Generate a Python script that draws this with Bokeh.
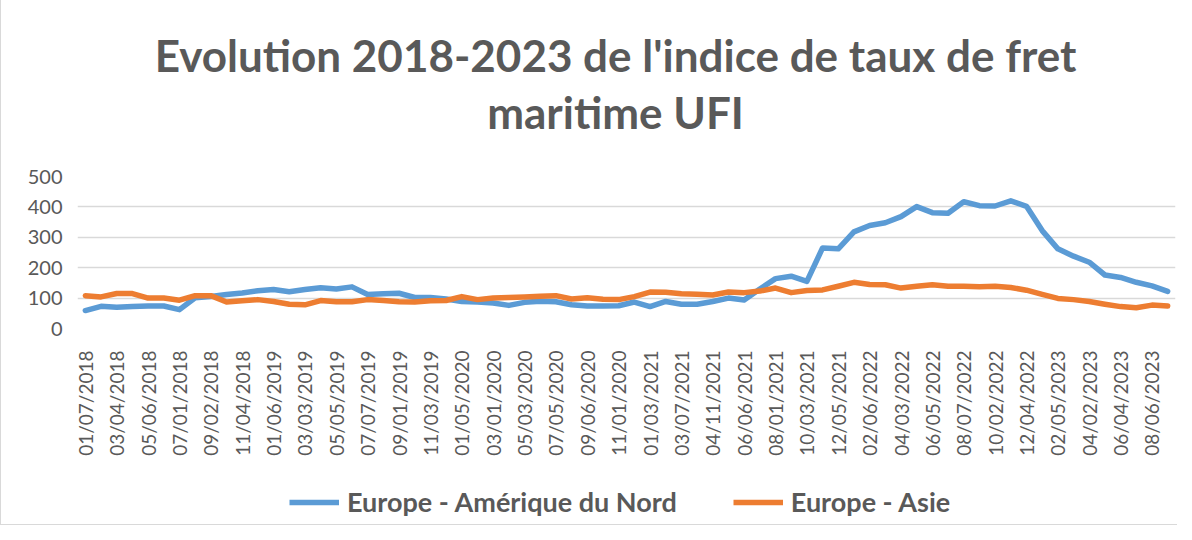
from math import pi
from bokeh.plotting import figure
from bokeh.layouts import column
from bokeh.models import (FixedTicker, Label, Legend, LegendItem, ColumnDataSource, Range1d)
from bokeh.embed import file_html
from bokeh.resources import INLINE

title_line1 = "Evolution 2018-2023 de l'indice de taux de fret"
title_line2 = "maritime UFI"

tick_labels = ["01/07/2018", "03/04/2018", "05/06/2018", "07/01/2018", "09/02/2018",
               "11/04/2018", "01/06/2019", "03/03/2019", "05/05/2019", "07/07/2019",
               "09/01/2019", "11/03/2019", "01/05/2020", "03/01/2020", "05/03/2020",
               "07/05/2020", "09/06/2020", "11/01/2020", "01/03/2021", "03/07/2021",
               "04/11/2021", "06/06/2021", "08/01/2021", "10/03/2021", "12/05/2021",
               "02/06/2022", "04/03/2022", "06/05/2022", "08/07/2022", "10/02/2022",
               "12/04/2022", "02/05/2023", "04/02/2023", "06/04/2023", "08/06/2023"]

europe_amerique = [59, 73, 70, 72, 74, 74, 62, 101, 105, 112, 117, 124, 128, 121, 128, 134,
                   130, 137, 112, 114, 116, 102, 102, 97, 89, 87, 84, 76, 86, 90, 88, 78,
                   74, 74, 75, 87, 72, 89, 80, 80, 89, 100, 94, 130, 164, 172, 155, 265,
                   262, 318, 339, 348, 368, 401, 381, 379, 417, 404, 403, 420, 402, 322,
                   262, 238, 218, 176, 168, 152, 140, 122]

europe_asie = [108, 104, 115, 115, 100, 100, 93, 108, 108, 87, 91, 95, 89, 80, 78, 92,
               88, 88, 95, 92, 88, 87, 91, 92, 105, 95, 100, 102, 104, 106, 108, 97,
               101, 96, 95, 105, 120, 119, 114, 113, 110, 120, 118, 123, 133, 118, 125, 127,
               139, 152, 145, 144, 133, 139, 144, 139, 139, 137, 139, 135, 126, 112,
               99, 95, 89, 80, 72, 68, 77, 74]

series_names = ["Europe - Amérique du Nord", "Europe - Asie"]
colors = ["#5b9bd5", "#ed7d31"]

n = len(europe_amerique)
idx = list(range(n))
src = ColumnDataSource(dict(x=idx, a=europe_amerique, b=europe_asie))

FONT = "Lato"
GREY = "#595959"
LW = 5.5
W = 1176

# ---- title strip ----
H0 = 149
p0 = figure(width=W, height=H0, output_backend="svg", toolbar_location=None,
            x_axis_location=None, y_axis_location=None,
            x_range=Range1d(0, 1), y_range=Range1d(0, 1), min_border=0)
p0.grid.visible = False
p0.outline_line_color = None
for txt, ypos in [(title_line1, 95), (title_line2, 38)]:
    p0.add_layout(Label(x=538, y=ypos, x_units="screen", y_units="screen", text=txt,
                        text_align="center", text_baseline="middle",
                        text_font=FONT, text_font_size="44px", text_font_style="bold",
                        text_color=GREY))

# ---- main chart ----
H1 = 329
p = figure(width=W, height=H1, output_backend="svg", toolbar_location=None,
           x_range=(-0.5, n - 0.5), y_range=(0, 500),
           min_border_left=76, min_border_right=2, min_border_top=27, min_border_bottom=150)

p.line("x", "a", source=src, line_color=colors[0], line_width=LW, line_join="round", line_cap="round")
p.line("x", "b", source=src, line_color=colors[1], line_width=LW, line_join="round", line_cap="round")

p.outline_line_color = None
p.background_fill_color = "white"
p.border_fill_color = "white"
p.xgrid.grid_line_color = None
p.ygrid.grid_line_color = "#d9d9d9"
p.ygrid.grid_line_width = 1.5

p.yaxis.ticker = FixedTicker(ticks=[0, 100, 200, 300, 400, 500])
p.yaxis.axis_line_color = None
p.yaxis.major_tick_line_color = None
p.yaxis.minor_tick_line_color = None
p.yaxis.major_label_standoff = 9
p.yaxis.major_label_text_font = FONT
p.yaxis.major_label_text_font_size = "20px"
p.yaxis.major_label_text_color = GREY

p.xaxis.ticker = FixedTicker(ticks=list(range(0, n, 2)))
p.xaxis.major_label_overrides = {i * 2: lab for i, lab in enumerate(tick_labels)}
p.xaxis.major_label_orientation = pi / 2
p.xaxis.axis_line_color = None
p.xaxis.major_tick_line_color = None
p.xaxis.minor_tick_line_color = None
p.xaxis.major_label_standoff = 16
p.xaxis.major_label_text_font = FONT
p.xaxis.major_label_text_font_size = "19px"
p.xaxis.major_label_text_color = GREY

# ---- legend strip ----
p2 = figure(width=W, height=524 - H0 - H1, output_backend="svg", toolbar_location=None,
            x_axis_location=None, y_axis_location=None,
            x_range=Range1d(0, 1), y_range=Range1d(1000, 1001), min_border=0)
p2.grid.visible = False
p2.outline_line_color = None
lr1 = p2.line("x", "a", source=src, line_color=colors[0], line_width=LW)
lr2 = p2.line("x", "b", source=src, line_color=colors[1], line_width=LW)
legend = Legend(items=[LegendItem(label=series_names[0], renderers=[lr1]),
                       LegendItem(label=series_names[1], renderers=[lr2])],
                orientation="horizontal", location=(212, 6),
                border_line_color=None, background_fill_alpha=0,
                label_text_font=FONT, label_text_font_size="27px", label_text_font_style="bold",
                label_text_color=GREY, glyph_width=50, glyph_height=28, label_standoff=8,
                spacing=56, padding=0, margin=0)
p2.add_layout(legend, "center")

layout = column(p0, p, p2, spacing=0)
layout.styles = {"border-left": "1px solid #d9d9d9", "border-bottom": "1px solid #d9d9d9"}
open("out.html", "w").write(file_html(layout, INLINE))
